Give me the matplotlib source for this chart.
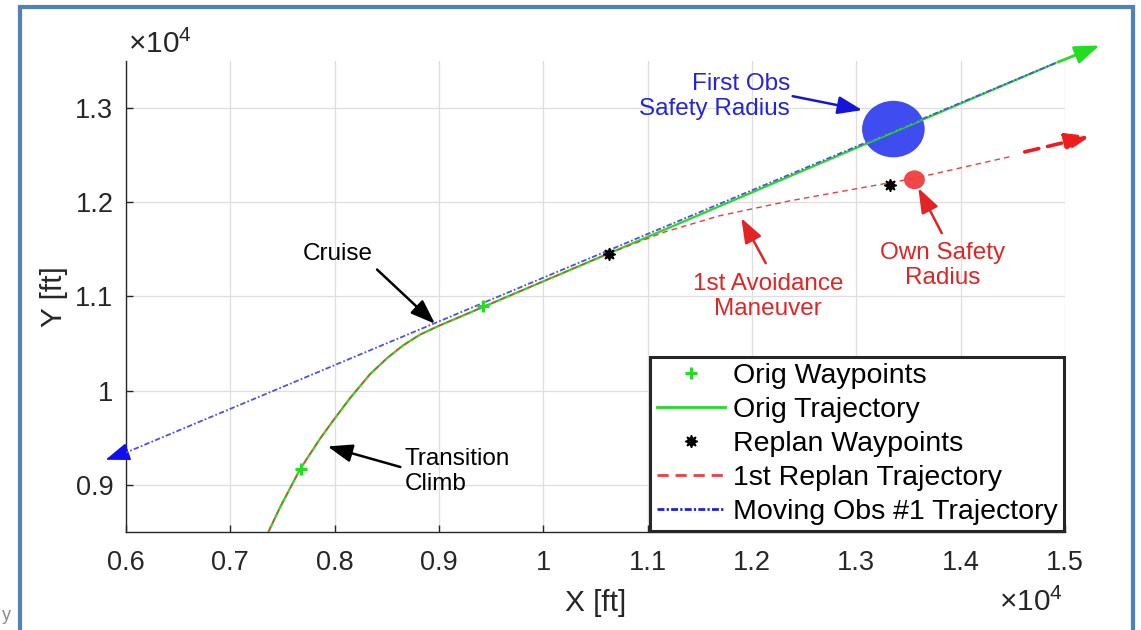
import matplotlib
matplotlib.use("Agg")
import matplotlib.pyplot as plt
from matplotlib.patches import Circle, Rectangle
from matplotlib.lines import Line2D
from matplotlib.ticker import FuncFormatter

plt.rcParams['font.family'] = ['Liberation Sans', 'DejaVu Sans']
plt.rcParams['mathtext.fontset'] = 'custom'
plt.rcParams['mathtext.rm'] = 'Liberation Sans'

# ===== trajectory data [ft] =====
# transition climb (shared by original and replanned paths)
climb_x = [7365, 7476, 7668, 7860, 7984, 8147, 8339, 8502, 8655, 8818, 9000]
climb_y = [8500, 8760, 9165, 9490, 9680, 9920, 10175, 10345, 10480, 10595, 10689]

# original cruise leg end
cruise_end_x = [14907]
cruise_end_y = [13477]

# replanned leg after the first avoidance maneuver
replan_leg_x = [10625, 11163, 11682, 12356, 12961, 13557, 14500]
replan_leg_y = [11456, 11685, 11855, 12014, 12136, 12255, 12491]

orig_wp_x = [7673, 9425]
orig_wp_y = [9173, 10895]

replan_wp_x = [10625, 13327]
replan_wp_y = [11456, 12184]

# moving obstacle #1 path (flying right to left)
obs_x = [14907, 6000]
obs_y = [13477, 9343]

# safety radii
obs_center = (13355, 12777)
obs_radius = 300
own_center = (13557, 12239)
own_radius = 100

orig_x = climb_x + cruise_end_x
orig_y = climb_y + cruise_end_y
replan_x = climb_x + replan_leg_x
replan_y = climb_y + replan_leg_y

GREEN = "#22dd22"
RED = "#f03c3c"
BLUE = "#5050e2"
TXT_BLUE = "#2323e0"
TXT_RED = "#e32424"
DARK = "#262626"
STAR = (8, 1, 0)

fig = plt.figure(figsize=(11.41, 6.30), dpi=100)
ax = fig.add_axes([0.1104, 0.1556, 0.8230, 0.7476])

# safety circles sit under the trajectories
ax.add_patch(Circle(obs_center, obs_radius, color="#3f4cf0", zorder=2.5, lw=0))
ax.add_patch(Circle(own_center, own_radius, color="#f04848", zorder=2.5, lw=0))

ax.plot(orig_x, orig_y, color=GREEN, lw=1.6, zorder=3)
ax.plot(replan_x, replan_y, color=RED, lw=1.0, ls=(0, (4, 3)), zorder=4)
ax.plot(obs_x, obs_y, color=BLUE, lw=1.3, ls=(0, (3, 1.2, 1, 1.2)), zorder=5)
ax.plot(orig_wp_x, orig_wp_y, ls="none", marker="+", color=GREEN, ms=9, mew=2.2, zorder=6)
ax.plot(replan_wp_x, replan_wp_y, ls="none", marker=STAR, color="k", ms=9, zorder=6)

ax.set_xlim(6000, 15000)
ax.set_ylim(8500, 13500)
ax.set_xticks(range(6000, 15001, 1000))
ax.set_yticks(range(9000, 13001, 1000))
fmt = FuncFormatter(lambda v, p: f"{v / 1e4:g}")
ax.xaxis.set_major_formatter(fmt)
ax.yaxis.set_major_formatter(fmt)

ax.grid(True, color="#dedede", lw=0.9)
ax.set_axisbelow(True)
for s in ["top", "right"]:
    ax.spines[s].set_visible(False)
for s in ["left", "bottom"]:
    ax.spines[s].set_color(DARK)
    ax.spines[s].set_linewidth(1.0)
ax.tick_params(direction="in", length=5, width=1, labelsize=19.5,
               colors=DARK, pad=9)
ax.tick_params(axis="x", pad=13)

ax.set_xlabel("X [ft]", fontsize=21.5, color=DARK, labelpad=9)
ax.set_ylabel("Y [ft]", fontsize=21.5, color=DARK, labelpad=5)

# exponent labels
fig.text(128 / 1141, 1 - 53 / 630, r"$\times10^{4}$", fontsize=21.5,
         color=DARK, ha="left", va="baseline")
fig.text(999 / 1141, 1 - 611 / 630, r"$\times10^{4}$", fontsize=21.5,
         color=DARK, ha="left", va="baseline")

head = "-|>,head_length=1.5,head_width=0.55"

# direction arrows at the ends of each path
ax.annotate("", xy=(15355, 13675), xytext=(orig_x[-1], orig_y[-1]),
            arrowprops=dict(arrowstyle=head, color=GREEN, lw=2),
            annotation_clip=False)
ax.annotate("", xy=(15269, 12708), xytext=(14588, 12528),
            arrowprops=dict(arrowstyle=head, color="#ee1c1c", lw=2.6, ls=(0, (4, 2.5))),
            annotation_clip=False)
ax.annotate("", xy=(5780, 9257), xytext=(obs_x[-1], obs_y[-1]),
            arrowprops=dict(arrowstyle=head, color="#1010ee", lw=1.2),
            annotation_clip=False)

# callouts
arrow_kw = dict(arrowstyle=head, lw=1.8)

ax.text(12364, 13121, "First Obs\nSafety Radius", fontsize=17.5,
        color=TXT_BLUE, ha="right", va="center", multialignment="right")
ax.annotate("", xy=(13083, 12973), xytext=(12364, 13132),
            arrowprops=dict(color="#1515d8", **arrow_kw))

ax.text(8032, 11454, "Cruise", fontsize=17.5, color="k", ha="center", va="center")
ax.annotate("", xy=(8981, 10690), xytext=(8387, 11306),
            arrowprops=dict(color="k", **arrow_kw))

ax.text(8674, 9140, "Transition\nClimb", fontsize=17.5, color="k",
        ha="left", va="center", multialignment="left")
ax.annotate("", xy=(7907, 9416), xytext=(8655, 9182),
            arrowprops=dict(color="k", **arrow_kw))

ax.text(12154, 10998, "1st Avoidance\nManeuver", fontsize=17.5,
        color=TXT_RED, ha="center", va="center", multialignment="center")
ax.annotate("", xy=(11885, 11858), xytext=(12144, 11328),
            arrowprops=dict(color=TXT_RED, **arrow_kw))

ax.text(13831, 11328, "Own Safety\nRadius", fontsize=17.5,
        color=TXT_RED, ha="center", va="center", multialignment="center")
ax.annotate("", xy=(13582, 12177), xytext=(13831, 11646),
            arrowprops=dict(color=TXT_RED, **arrow_kw))

# legend with bolder proxy handles
handles = [
    Line2D([], [], ls="none", marker="+", color=GREEN, ms=8, mew=2.2),
    Line2D([], [], color=GREEN, lw=2),
    Line2D([], [], ls="none", marker=STAR, color="k", ms=9),
    Line2D([], [], color=RED, lw=2, ls=(0, (4, 2.5))),
    Line2D([], [], color="#2020e0", lw=2, ls=(0, (2.5, 0.8, 0.8, 0.8))),
]
labels = ["Orig Waypoints", "Orig Trajectory", "Replan Waypoints",
          "1st Replan Trajectory", "Moving Obs #1 Trajectory"]
leg = ax.legend(handles, labels, loc="lower right", bbox_to_anchor=(1.0, 0.0),
                borderaxespad=0.02, fontsize=20.5, labelspacing=0.28,
                handlelength=2.4, handletextpad=0.3, borderpad=0.22,
                fancybox=False, framealpha=1, edgecolor=DARK)
leg.get_frame().set_linewidth(2.2)
leg.set_zorder(10)

# page frame
fig.patches.append(Rectangle((20 / 1141, -0.1), 1113 / 1141, 0.1 + 1 - 7 / 630,
                             transform=fig.transFigure, fill=False,
                             edgecolor="#4f81bd", lw=3))
fig.text(2 / 1141, 1 - 620 / 630, "y", fontsize=13, color="#8a8a8a",
         ha="left", va="baseline")

fig.savefig("out.png", dpi=100)
